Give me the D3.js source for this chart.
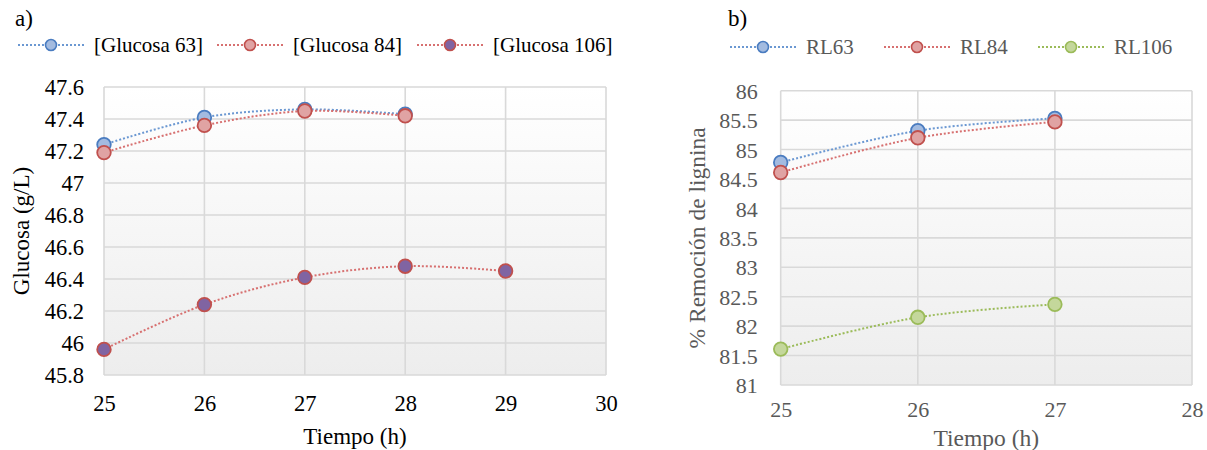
<!DOCTYPE html>
<html>
<head>
<meta charset="utf-8">
<script src="https://cdn.jsdelivr.net/npm/d3@7"></script>
<style>
  html, body { margin: 0; padding: 0; background: #ffffff; }
  svg { display: block; }
  svg text { font-family: "Liberation Serif", Tinos, "Times New Roman", "DejaVu Serif", serif !important; }
</style>
</head>
<body>
<svg id="chart" width="1207" height="450"></svg>
<script>
// ---- Data: panel a) ----
const timeA = [25, 26, 27, 28, 29];
const glucosa63 = [47.24, 47.41, 47.46, 47.43];
const glucosa84 = [47.19, 47.36, 47.45, 47.42];
const glucosa106 = [45.96, 46.24, 46.41, 46.48, 46.45];
const seriesNamesA = ["[Glucosa 63]", "[Glucosa 84]", "[Glucosa 106]"];
const xTicksA = [25, 26, 27, 28, 29, 30];
const yTicksA = [45.8, 46, 46.2, 46.4, 46.6, 46.8, 47, 47.2, 47.4, 47.6];

// ---- Data: panel b) ----
const timeB = [25, 26, 27];
const rl63 = [84.78, 85.32, 85.53];
const rl84 = [84.61, 85.2, 85.47];
const rl106 = [81.61, 82.15, 82.37];
const seriesNamesB = ["RL63", "RL84", "RL106"];
const xTicksB = [25, 26, 27, 28];
const yTicksB = [81, 81.5, 82, 82.5, 83, 83.5, 84, 84.5, 85, 85.5, 86];

const svg = d3.select("#chart");
const defs = svg.append("defs");
const grad = defs.append("linearGradient").attr("id", "bg").attr("x1", 0).attr("y1", 0).attr("x2", 0).attr("y2", 1);
grad.append("stop").attr("offset", "0%").attr("stop-color", "#ffffff");
grad.append("stop").attr("offset", "100%").attr("stop-color", "#ededed");

const styles = {
  blue:   { line: "#6b98d2", fill: "#a3bbe0", stroke: "#4a7cc0" },
  red:    { line: "#d77070", fill: "#e0a3a3", stroke: "#c0504d" },
  purple: { line: "#d77070", fill: "#8064a2", stroke: "#c0504d" },
  green:  { line: "#9bbb59", fill: "#c4d79b", stroke: "#9bbb59" }
};

function panel(cfg) {
  const g = svg.append("g");
  const x = d3.scaleLinear().domain(cfg.xDomain).range([cfg.left, cfg.right]);
  const y = d3.scaleLinear().domain(cfg.yDomain).range([cfg.bottom, cfg.top]);

  g.append("rect").attr("x", cfg.left).attr("y", cfg.top)
    .attr("width", cfg.right - cfg.left).attr("height", cfg.bottom - cfg.top)
    .attr("fill", "url(#bg)");

  // gridlines
  g.append("g").selectAll("line").data(cfg.yTicks).join("line")
    .attr("x1", cfg.left).attr("x2", cfg.right)
    .attr("y1", d => y(d)).attr("y2", d => y(d))
    .attr("stroke", "#d9d9d9").attr("stroke-width", 1.6);
  g.append("g").selectAll("line").data(cfg.xTicks).join("line")
    .attr("y1", cfg.top).attr("y2", cfg.bottom)
    .attr("x1", d => x(d)).attr("x2", d => x(d))
    .attr("stroke", "#d9d9d9").attr("stroke-width", 1.6);

  // axes via d3 axis generators (labels only)
  const yAxis = d3.axisLeft(y).tickValues(cfg.yTicks).tickSize(0).tickPadding(0)
    .tickFormat(d => String(+d.toFixed(1)));
  const ya = g.append("g").attr("transform", `translate(${cfg.left - cfg.yTickGap},0)`).call(yAxis);
  ya.attr("font-family", null).attr("font-size", null);
  ya.select(".domain").remove();
  ya.selectAll("text").attr("font-size", cfg.tickSize).attr("fill", cfg.textColor).attr("dy", "0.35em");

  const xAxis = d3.axisBottom(x).tickValues(cfg.xTicks).tickSize(0).tickPadding(0).tickFormat(d3.format("d"));
  const xa = g.append("g").attr("transform", `translate(0,${cfg.bottom + cfg.xTickGap})`).call(xAxis);
  xa.attr("font-family", null).attr("font-size", null);
  xa.select(".domain").remove();
  xa.selectAll("text").attr("font-size", cfg.tickSize).attr("fill", cfg.textColor).attr("dy", "0.7em");

  // titles
  g.append("text").attr("x", (cfg.left + cfg.right) / 2).attr("y", cfg.xTitleY)
    .attr("text-anchor", "middle").attr("font-size", cfg.titleSize).attr("fill", cfg.textColor).text("Tiempo (h)");
  g.append("text").attr("transform", `translate(${cfg.yTitleX},${(cfg.top + cfg.bottom) / 2}) rotate(-90)`)
    .attr("text-anchor", "middle").attr("font-size", cfg.titleSize).attr("dy", "0.35em").attr("fill", cfg.textColor).text(cfg.yTitle);
  g.append("text").attr("x", cfg.labelX).attr("y", cfg.labelY).attr("font-size", 23).attr("fill", "#000").text(cfg.label);

  const line = d3.line().x(d => x(d[0])).y(d => y(d[1])).curve(d3.curveCardinal.tension(0));

  cfg.series.forEach(s => {
    const pts = s.values.map((v, i) => [cfg.xs[i], v]);
    const st = styles[s.style];
    g.append("path").attr("d", line(pts)).attr("fill", "none")
      .attr("stroke", st.line).attr("stroke-width", 2).attr("stroke-dasharray", "2,2");
    g.append("g").selectAll("circle").data(pts).join("circle")
      .attr("cx", d => x(d[0])).attr("cy", d => y(d[1])).attr("r", 6.8)
      .attr("fill", st.fill).attr("stroke", st.stroke).attr("stroke-width", 1.8);
  });

  // legend
  cfg.series.forEach((s, i) => {
    const st = styles[s.style];
    const lx = cfg.legendX[i];
    const ly = cfg.legendY;
    g.append("line").attr("x1", lx - 33).attr("x2", lx + 33).attr("y1", ly).attr("y2", ly)
      .attr("stroke", st.line).attr("stroke-width", 2).attr("stroke-dasharray", "2,2");
    g.append("circle").attr("cx", lx).attr("cy", ly).attr("r", 5.5)
      .attr("fill", st.fill).attr("stroke", st.stroke).attr("stroke-width", 1.6);
    g.append("text").attr("x", lx + 43).attr("y", ly).attr("dy", "0.35em")
      .attr("font-size", 21).attr("fill", cfg.textColor).text(s.name);
  });
}

panel({
  xDomain: [25, 30], yDomain: [45.8, 47.6],
  left: 104, right: 606, top: 87, bottom: 375,
  xTicks: xTicksA, yTicks: yTicksA, xs: timeA,
  textColor: "#000000", tickSize: 22.5, titleSize: 23, yTickGap: 20, xTickGap: 20,
  yTitle: "Glucosa (g/L)", yTitleX: 21, xTitleY: 444,
  label: "a)", labelX: 15, labelY: 26,
  legendX: [51, 250, 450], legendY: 45,
  series: [
    { name: seriesNamesA[0], values: glucosa63, style: "blue" },
    { name: seriesNamesA[1], values: glucosa84, style: "red" },
    { name: seriesNamesA[2], values: glucosa106, style: "purple" }
  ]
});

panel({
  xDomain: [25, 28], yDomain: [81, 86],
  left: 780.7, right: 1192, top: 90.7, bottom: 385,
  xTicks: xTicksB, yTicks: yTicksB, xs: timeB,
  textColor: "#595959", tickSize: 22, titleSize: 23.5, yTickGap: 23, xTickGap: 17,
  yTitle: "% Remoción de lignina", yTitleX: 697, xTitleY: 446,
  label: "b)", labelX: 728, labelY: 26,
  legendX: [763, 917, 1071], legendY: 47,
  series: [
    { name: seriesNamesB[0], values: rl63, style: "blue" },
    { name: seriesNamesB[1], values: rl84, style: "red" },
    { name: seriesNamesB[2], values: rl106, style: "green" }
  ]
});
</script>
</body>
</html>
